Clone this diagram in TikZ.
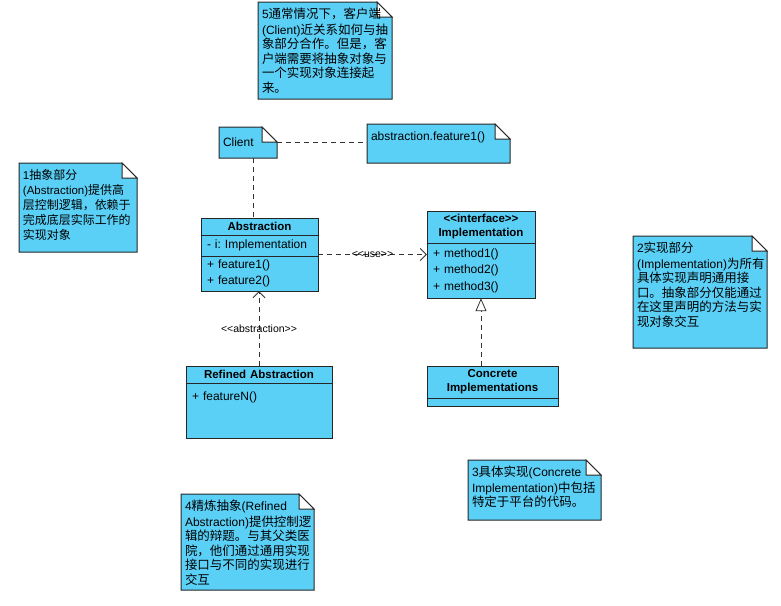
\documentclass[tikz,border=0pt]{standalone}
\usepackage{fontspec}
\usetikzlibrary{positioning,fit,backgrounds,arrows.meta}
\newfontfamily\umlfont{Liberation Sans}
\newfontfamily\zh{Noto Sans CJK SC}[Scale=1.04]
\definecolor{umlblue}{RGB}{91,208,247}
\frenchspacing
% note text: width, height, lines
\newcommand{\notebody}[3]{\parbox[t][#2][t]{#1}{\raggedright\strut#3}}

\begin{document}
\begin{tikzpicture}[
    x=1pt, y=-1pt,
    every node/.style={font=\umlfont\fontsize{12}{14.5}\selectfont},
    note/.style={anchor=north west, inner xsep=4pt, inner ysep=6pt, outer sep=0pt},
    part/.style={draw=black!85, line width=1pt, fill=umlblue, inner xsep=6pt, inner ysep=0pt, outer sep=0pt, align=left, font=\umlfont\fontsize{12}{16}\selectfont},
    head/.style={part, align=center, font=\umlfont\bfseries\fontsize{11.5}{14}\selectfont},
    dep/.style={draw=black!80, line width=0.8pt, dash pattern=on 5pt off 4pt},
    tag/.style={font=\umlfont\fontsize{10.5}{12}\selectfont, inner sep=1pt},
    barb/.style={-{Straight Barb[length=6pt, width=12pt]}},
    realize/.style={-{Triangle[open, length=13pt, width=11pt]}}
    ]
    \useasboundingbox (0,0) rectangle (781,605);

    % notes
    \node[note] (n5) at (258,2) {\notebody{126pt}{85pt}{5{\zh 通常情况下，客户端}\\(Client){\zh 近关系如何与抽}\\{\zh 象部分合作。但是，客}\\{\zh 户端需要将抽象对象与}\\{\zh 一个实现对象连接起}\\{\zh 来。}}};
    \node[note, minimum width=58pt, minimum height=31pt, text width=50pt] (client) at (219,127) {Client};
    \node[note] (feat) at (367,124) {\notebody{135pt}{27pt}{abstraction.feature1()}};
    \node[note, font=\umlfont\fontsize{11.5}{15}\selectfont] (n1) at (19,163) {\notebody{110pt}{77pt}{1{\zh 抽象部分}\\(Abstraction){\zh 提供高}\\{\zh 层控制逻辑，依赖于}\\{\zh 完成底层实际工作的}\\{\zh 实现对象}}};
    \node[note] (n2) at (633,236) {\notebody{126pt}{100pt}{2{\zh 实现部分}\\(Implementation){\zh 为所有}\\{\zh 具体实现声明通用接}\\{\zh 口。抽象部分仅能通过}\\{\zh 在这里声明的方法与实}\\{\zh 现对象交互}}};
    \node[note] (n3) at (468,460) {\notebody{125pt}{48pt}{3{\zh 具体实现}(Concrete\\Implementation){\zh 中包括}\\{\zh 特定于平台的代码。}}};
    \node[note] (n4) at (181,494) {\notebody{125pt}{84pt}{4{\zh 精炼抽象}(Refined\\Abstraction){\zh 提供控制逻}\\{\zh 辑的辩题。与其父类医}\\{\zh 院，他们通过通用实现}\\{\zh 接口与不同的实现进行}\\{\zh 交互}}};

    % Abstraction
    \node[head, anchor=north west, text width=105pt, minimum height=17pt] (abs-head) at (201,218) {Abstraction};
    \node[part, below=0pt of abs-head, text width=105pt, minimum height=21pt] (abs-attr) {- i: Implementation};
    \node[part, below=0pt of abs-attr, text width=105pt, minimum height=35pt] (abs-meth) {+ feature1()\\+ feature2()};
    \node[fit=(abs-head)(abs-meth), inner sep=0pt] (abs) {};

    % Implementation
    \node[head, anchor=north west, text width=96pt, minimum height=32pt] (iface-head) at (427,211) {<<interface>>\\Implementation};
    \node[part, below=0pt of iface-head, text width=96pt, minimum height=55pt, font=\umlfont\fontsize{12}{16.5}\selectfont] (iface-meth) {+ method1()\\+ method2()\\+ method3()};
    \node[fit=(iface-head)(iface-meth), inner sep=0pt] (iface) {};

    % Refined Abstraction
    \node[head, anchor=north west, text width=134pt, minimum height=17pt] (ref-head) at (186,366) {Refined Abstraction};
    \node[part, below=0pt of ref-head, text width=134pt, text height=17pt, text depth=38pt] (ref-meth) {+ featureN()};

    % Concrete Implementations
    \node[head, anchor=north west, text width=119pt, minimum height=32pt] (conc-head) at (427,366) {Concrete\\Implementations};
    \node[part, below=0pt of conc-head, text width=119pt, minimum height=8pt] (conc-body) {};
    \node[fit=(conc-head)(conc-body), inner sep=0pt] (conc) {};

    % links
    \draw[dep] (client.east) -- (client.east -| feat.west);
    \draw[dep] ([xshift=5pt]client.south) -- ([xshift=5pt]client.south |- abs.north);
    \draw[dep, barb] (abs.east) -- node[tag] {<<use>>} (abs.east -| iface.west);
    \draw[dep, barb] (ref-head.north) -- node[tag] {<<abstraction>>} (ref-head.north |- abs.south);
    \draw[dep, realize] (iface.south |- conc.north) -- (iface.south);

    % note frames
    \begin{scope}[on background layer]
      \fill[white] (0,0) rectangle (781,605);
      \foreach \n in {n5,client,feat,n1,n2,n3,n4}{
        \filldraw[draw=black!85, line width=1pt, fill=umlblue] (\n.south west) -- (\n.north west) -- ([xshift=-15pt]\n.north east) -- ([yshift=-15pt]\n.north east) -- (\n.south east) -- cycle;
        \filldraw[draw=black!85, line width=1pt, fill=white] ([xshift=-15pt]\n.north east) -- ([xshift=-15pt, yshift=-15pt]\n.north east) -- ([yshift=-15pt]\n.north east) -- cycle;
      }
    \end{scope}
\end{tikzpicture}
\end{document}
